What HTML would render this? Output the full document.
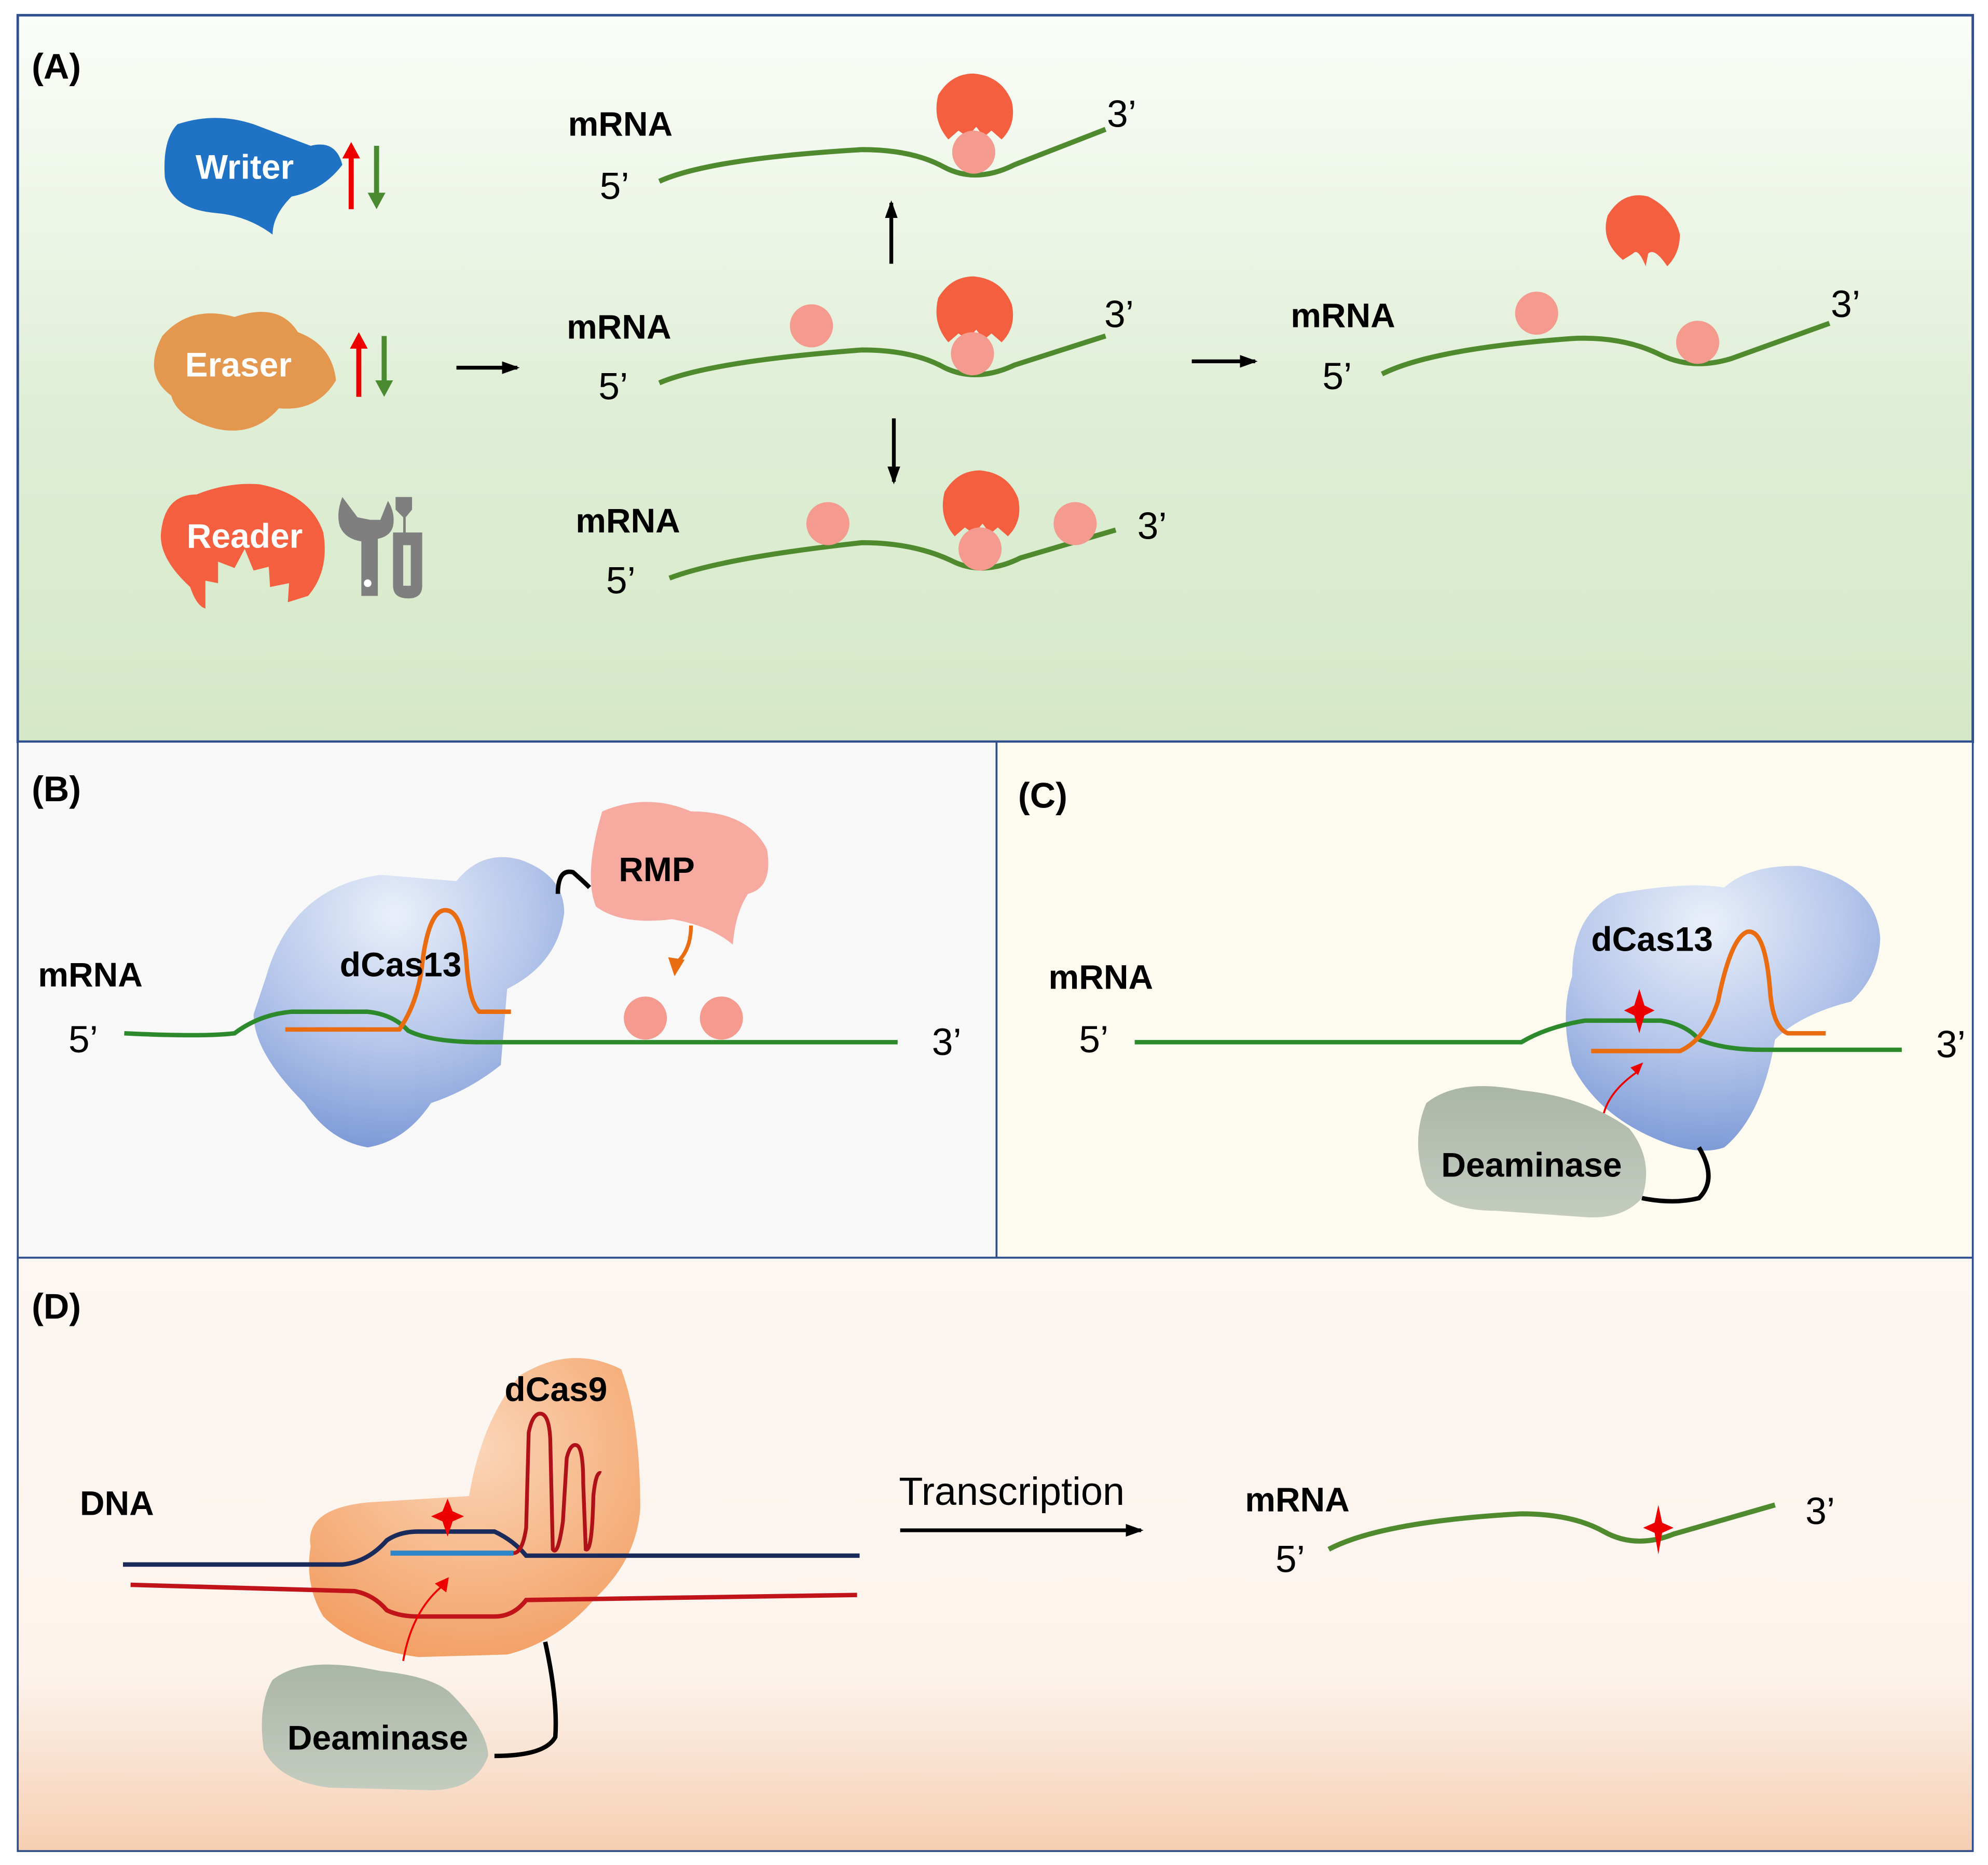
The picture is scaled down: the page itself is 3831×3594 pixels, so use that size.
<!DOCTYPE html>
<html><head><style>html,body{margin:0;padding:0;background:#fff}svg{display:block}</style></head>
<body>
<svg width="3831" height="3594" viewBox="0 0 1568 1471" xmlns="http://www.w3.org/2000/svg" font-family="Liberation Sans, Arial, sans-serif">
<defs>
<linearGradient id="gA" x1="0" y1="0" x2="0" y2="1"><stop offset="0" stop-color="#fbfdf9"/><stop offset="0.55" stop-color="#dfeed5"/><stop offset="1" stop-color="#d5e8c7"/></linearGradient>
<linearGradient id="gD" x1="0" y1="0" x2="0" y2="1"><stop offset="0" stop-color="#fcf7f2"/><stop offset="0.7" stop-color="#fcf3ec"/><stop offset="1" stop-color="#f6cfb2"/></linearGradient>
<radialGradient id="gBlue" cx="0.45" cy="0.2" r="0.9"><stop offset="0" stop-color="#eaf0fa"/><stop offset="0.5" stop-color="#b5c6ea"/><stop offset="1" stop-color="#6f8fd2"/></radialGradient>
<radialGradient id="gOr" cx="0.5" cy="0.3" r="0.8"><stop offset="0" stop-color="#fbd6b8"/><stop offset="1" stop-color="#f29a5c"/></radialGradient>
<linearGradient id="gGray" x1="0" y1="0" x2="0" y2="1"><stop offset="0" stop-color="#aab6a8"/><stop offset="1" stop-color="#c4ccc0"/></linearGradient>
<marker id="ar" markerUnits="userSpaceOnUse" markerWidth="14" markerHeight="12" refX="12" refY="6" orient="auto"><path d="M0,1 L14,6 L0,11 Z" fill="#000"/></marker>
</defs>
<rect x="14" y="12" width="1542" height="573" fill="url(#gA)" stroke="#2f4f8f" stroke-width="2"/>
<rect x="14" y="585" width="772" height="407" fill="#f8f8f8" stroke="#2f4f8f" stroke-width="1.5"/>
<rect x="786" y="585" width="770" height="407" fill="#fdfbef" stroke="#2f4f8f" stroke-width="1.5"/>
<rect x="14" y="992" width="1542" height="468" fill="url(#gD)" stroke="#2f4f8f" stroke-width="1.5"/>
<g font-weight="bold" font-size="28" fill="#000">
<text x="25" y="62">(A)</text><text x="25" y="632">(B)</text><text x="803" y="637">(C)</text><text x="25" y="1040">(D)</text>
</g>
<!-- Writer -->
<path d="M140,98 Q170,88 200,98 L245,115 Q265,110 270,130 Q255,150 230,155 Q215,170 215,185 Q195,170 170,168 Q135,165 130,140 Q128,110 140,98Z" fill="#1f72c4"/>
<text x="193" y="141" font-size="27" font-weight="bold" fill="#fff" text-anchor="middle">Writer</text>
<path d="M277,165 V122" stroke="#e00" stroke-width="4"/><path d="M270,125 L277,112 L284,125Z" fill="#e00"/>
<path d="M297,115 V155" stroke="#4a8a30" stroke-width="4"/><path d="M290,152 L297,165 L304,152Z" fill="#4a8a30"/>
<!-- Eraser -->
<path d="M128,265 Q150,240 185,250 Q220,238 235,262 Q262,272 265,300 Q250,325 220,322 Q200,345 170,338 Q140,330 135,312 Q112,295 128,265Z" fill="#e3974f"/>
<text x="188" y="297" font-size="27" font-weight="bold" fill="#fff" text-anchor="middle">Eraser</text>
<path d="M283,313 V272" stroke="#e00" stroke-width="4"/><path d="M276,275 L283,262 L290,275Z" fill="#e00"/>
<path d="M303,265 V303" stroke="#4a8a30" stroke-width="4"/><path d="M296,300 L303,313 L310,300Z" fill="#4a8a30"/>
<!-- Reader -->
<path d="M150,463 Q125,440 127,420 Q130,390 155,390 Q180,380 205,382 Q245,390 255,420 Q260,450 243,470 L227,475 L228,460 L213,463 L212,447 L200,450 L193,433 L185,448 L172,443 L172,460 L162,458 L162,480 Q155,478 150,463Z" fill="#f45f40"/>
<text x="193" y="432" font-size="27" font-weight="bold" fill="#fff" text-anchor="middle">Reader</text>
<g fill="#7f7f7f">
<path d="M270,392 Q265,405 268,415 Q272,425 285,427 L285,470 L298,470 L298,425 Q308,423 310,415 Q312,405 306,395 L300,410 L292,410 L282,408 Z"/>
<circle cx="290" cy="460" r="3" fill="#fff"/>
<path d="M312,392 H325 V402 L320,408 V420 H333 V462 Q333,472 322,472 Q310,472 310,462 V420 H318 V408 L312,402Z"/>
<rect x="318" y="430" width="6" height="32" fill="#d9eacd"/>
</g>
<!-- arrows -->
<line x1="360" y1="290" x2="408" y2="290" stroke="#000" stroke-width="3" marker-end="url(#ar)"/>
<line x1="703" y1="208" x2="703" y2="160" stroke="#000" stroke-width="3" marker-end="url(#ar)"/>
<line x1="705" y1="330" x2="705" y2="380" stroke="#000" stroke-width="3" marker-end="url(#ar)"/>
<line x1="940" y1="285" x2="990" y2="285" stroke="#000" stroke-width="3" marker-end="url(#ar)"/>
<line x1="710" y1="1207" x2="900" y2="1207" stroke="#000" stroke-width="3" marker-end="url(#ar)"/>
<g font-weight="bold" font-size="27" fill="#000">
<text x="448" y="107">mRNA</text><text x="447" y="267">mRNA</text><text x="454" y="420">mRNA</text><text x="1018" y="258">mRNA</text>
<text x="30" y="778">mRNA</text><text x="827" y="780">mRNA</text><text x="63" y="1195">DNA</text><text x="982" y="1192">mRNA</text>
</g>
<g font-size="30" fill="#000">
<text x="473" y="157">5’</text><text x="873" y="100">3’</text>
<text x="472" y="315">5’</text><text x="871" y="258">3’</text>
<text x="478" y="468">5’</text><text x="897" y="425">3’</text>
<text x="1043" y="307">5’</text><text x="1444" y="250">3’</text>
<text x="54" y="830">5’</text><text x="735" y="832">3’</text>
<text x="851" y="830">5’</text><text x="1527" y="834">3’</text>
<text x="1006" y="1240">5’</text><text x="1424" y="1202">3’</text>
<text x="709" y="1187" font-size="31">Transcription</text>
</g>
<g fill="none" stroke="#4f8a2f" stroke-width="4">
<path d="M520,143 Q560,125 680,118 Q720,118 745,132 Q770,145 800,130 L872,102"/>
<path d="M520,302 Q560,285 680,276 Q720,276 745,290 Q770,302 800,288 L872,265"/>
<path d="M528,456 Q570,440 680,428 Q720,428 750,442 Q775,455 805,440 L880,418"/>
<path d="M1090,295 Q1130,275 1240,267 Q1280,265 1310,280 Q1335,292 1365,283 L1443,255"/>
<path d="M1048,1222 Q1090,1200 1200,1194 Q1240,1194 1265,1208 Q1290,1222 1320,1210 L1400,1187"/>
</g>
<g fill="#f45f40">
<path d="M748,110 Q735,95 740,75 Q750,58 768,58 Q790,60 798,80 Q802,98 790,110 L782,103 L776,108 L770,100 L763,108 L756,103Z"/>
<path d="M748,270 Q735,255 740,235 Q750,218 768,218 Q790,220 798,240 Q802,258 790,270 L782,263 L776,268 L770,260 L763,268 L756,263Z"/>
<path d="M753,423 Q740,408 745,388 Q755,371 773,371 Q795,373 803,393 Q807,411 795,423 L787,416 L781,421 L775,413 L768,421 L761,416Z"/>
<path d="M1280,205 Q1262,190 1268,170 Q1280,150 1300,155 Q1320,165 1325,185 Q1325,200 1315,210 Q1305,195 1300,200 L1298,210 Q1292,195 1288,200Z"/>
</g>
<g fill="#f49a8f">
<circle cx="640" cy="257" r="17"/><circle cx="653" cy="413" r="17"/><circle cx="848" cy="413" r="17"/>
<circle cx="1212" cy="247" r="17"/><circle cx="1339" cy="270" r="17"/>
<circle cx="768" cy="120" r="17"/><circle cx="767" cy="279" r="17"/><circle cx="773" cy="433" r="17"/>
<circle cx="509" cy="803" r="17"/><circle cx="569" cy="803" r="17"/>
</g>
<!-- Panel B -->
<path d="M210,770 Q230,700 300,690 L360,695 Q380,670 410,678 Q445,690 445,720 Q440,760 400,780 L395,840 Q370,860 340,870 Q320,900 290,905 Q260,900 240,870 Q200,830 200,800Z" fill="url(#gBlue)"/>
<path d="M98,815 Q160,818 185,815 Q205,800 230,798 L290,798 Q310,800 322,813 Q340,822 380,822 L708,822" fill="none" stroke="#2c8a2c" stroke-width="3.5"/>
<path d="M225,812 L315,812 Q330,790 333,760 Q338,720 350,718 Q365,716 368,760 Q370,790 378,798 L403,798" fill="none" stroke="#ea6c10" stroke-width="3.5"/>
<text x="268" y="770" font-size="27" font-weight="bold">dCas13</text>
<path d="M440,705 Q440,685 452,688 Q460,695 465,700" fill="none" stroke="#000" stroke-width="3.5"/>
<path d="M475,640 Q510,625 545,640 Q590,640 605,670 Q610,700 590,705 Q580,720 578,745 Q560,730 530,725 Q490,730 470,715 Q460,690 475,640Z" fill="#f7aaa0"/>
<text x="488" y="695" font-size="27" font-weight="bold">RMP</text>
<path d="M545,730 Q545,750 533,760" fill="none" stroke="#ea6c10" stroke-width="3"/><path d="M527,755 L532,770 L540,757Z" fill="#ea6c10"/>
<!-- Panel C -->
<path d="M1240,770 Q1240,720 1275,705 Q1330,695 1360,700 Q1380,682 1420,683 Q1480,695 1483,740 Q1482,770 1460,790 Q1420,800 1400,820 Q1390,880 1360,905 Q1340,912 1310,900 Q1260,880 1240,840 Q1230,800 1240,770Z" fill="url(#gBlue)"/>
<path d="M895,822 L1200,822 Q1220,810 1250,805 L1310,805 Q1330,808 1340,820 Q1360,828 1390,828 L1500,828" fill="none" stroke="#2c8a2c" stroke-width="3.5"/>
<path d="M1255,829 L1325,829 Q1345,820 1355,790 Q1365,740 1378,735 Q1392,732 1396,780 Q1398,810 1410,815 L1440,815" fill="none" stroke="#ea6c10" stroke-width="3.5"/>
<text x="1255" y="750" font-size="27" font-weight="bold">dCas13</text>
<path d="M1293,780 L1297,793 L1305,797 L1297,801 L1293,815 L1289,801 L1281,797 L1289,793Z" fill="#e00"/>
<path d="M1340,905 Q1355,930 1340,945 Q1320,950 1295,945" fill="none" stroke="#000" stroke-width="3.5"/>
<path d="M1125,870 Q1150,850 1200,860 Q1250,865 1285,890 Q1305,915 1295,945 Q1280,962 1250,960 L1180,955 Q1140,955 1125,935 Q1112,900 1125,870Z" fill="url(#gGray)"/>
<text x="1208" y="928" font-size="27" font-weight="bold" text-anchor="middle">Deaminase</text>
<path d="M1265,878 Q1270,860 1292,845" fill="none" stroke="#e00" stroke-width="1.5"/><path d="M1286,842 L1296,838 L1292,848Z" fill="#e00"/>
<!-- Panel D -->
<path d="M245,1220 Q240,1190 290,1185 L370,1180 Q380,1120 410,1085 Q450,1060 490,1080 Q505,1120 505,1190 Q502,1230 470,1260 Q440,1295 400,1305 L330,1307 Q280,1300 255,1275 Q240,1250 245,1220Z" fill="url(#gOr)"/>
<text x="398" y="1105" font-size="27" font-weight="bold">dCas9</text>
<path d="M97,1234 L270,1234 Q290,1232 305,1215 Q315,1208 330,1208 L390,1208 Q405,1215 415,1227 L678,1227" fill="none" stroke="#1a2a5a" stroke-width="3.5"/>
<path d="M103,1250 L280,1255 Q295,1258 305,1270 Q315,1275 330,1275 L390,1275 Q405,1275 415,1262 L676,1258" fill="none" stroke="#c0141a" stroke-width="3.5"/>
<path d="M308,1225 L405,1225" stroke="#2e86c8" stroke-width="4"/>
<path d="M405,1225 Q412,1225 415,1205 L417,1130 Q420,1115 426,1115 Q433,1115 434,1135 L436,1222 Q440,1228 444,1200 L447,1150 Q450,1138 455,1140 Q460,1142 460,1170 L462,1222 Q467,1225 468,1180 Q470,1160 474,1162" fill="none" stroke="#b01018" stroke-width="3"/>
<path d="M353,1182 L357,1192 L366,1196 L357,1200 L353,1212 L349,1200 L340,1196 L349,1192Z" fill="#e00"/>
<path d="M318,1310 Q325,1270 350,1250" fill="none" stroke="#e00" stroke-width="1.5"/><path d="M343,1249 L354,1244 L352,1256Z" fill="#e00"/>
<path d="M430,1295 Q440,1340 438,1370 Q430,1385 390,1385" fill="none" stroke="#000" stroke-width="3.5"/>
<path d="M215,1325 Q240,1305 300,1318 Q340,1322 355,1335 Q385,1365 385,1385 Q375,1412 340,1412 L260,1410 Q220,1405 208,1380 Q203,1345 215,1325Z" fill="url(#gGray)"/>
<text x="298" y="1380" font-size="27" font-weight="bold" text-anchor="middle">Deaminase</text>
<path d="M1308,1187 L1311,1201 L1320,1205 L1311,1209 L1308,1226 L1305,1209 L1296,1205 L1305,1201Z" fill="#e00"/>
</svg>
</body></html>
